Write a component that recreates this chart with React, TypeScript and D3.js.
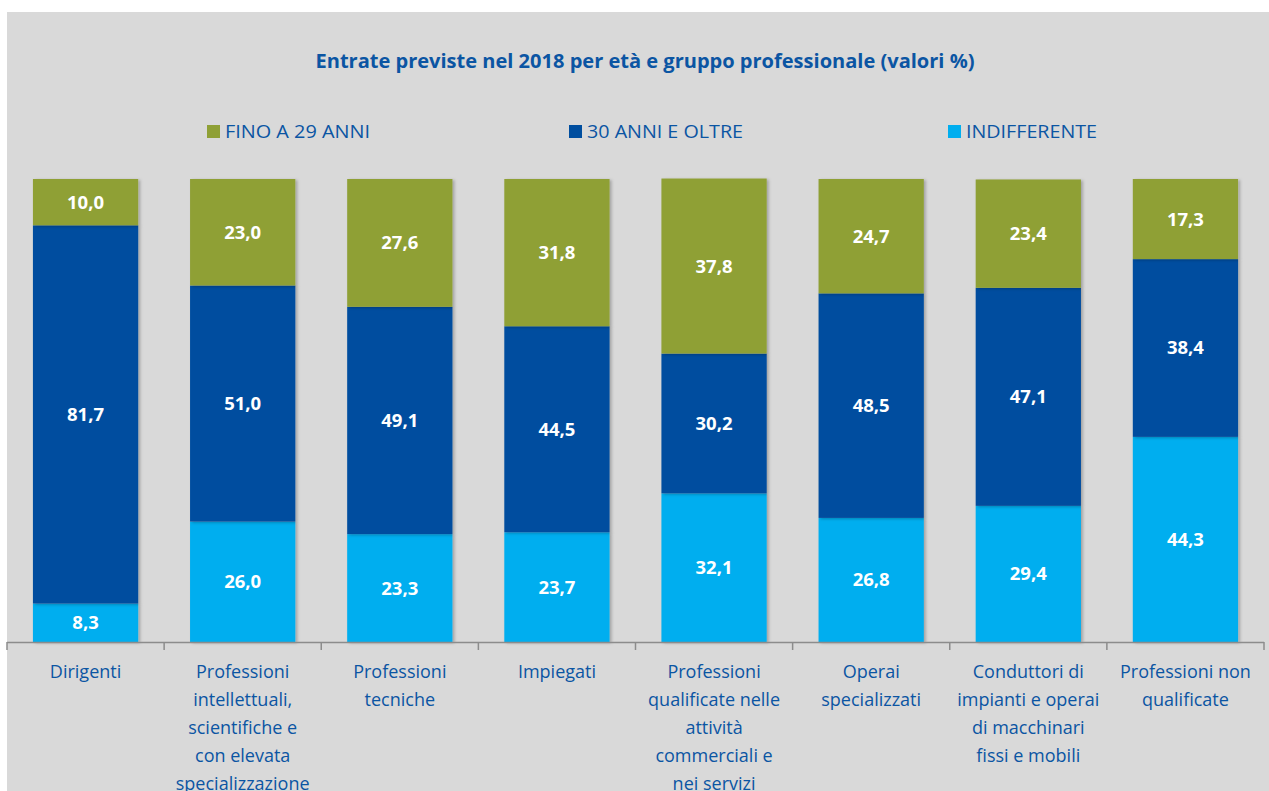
import React from "react";
import * as d3 from "d3";

const categories: string[][] = [
  ["Dirigenti"],
  ["Professioni", "intellettuali,", "scientifiche e", "con elevata", "specializzazione"],
  ["Professioni", "tecniche"],
  ["Impiegati"],
  ["Professioni", "qualificate nelle", "attività", "commerciali e", "nei servizi"],
  ["Operai", "specializzati"],
  ["Conduttori di", "impianti e operai", "di macchinari", "fissi e mobili"],
  ["Professioni non", "qualificate"],
];
const indifferente = [8.3, 26.0, 23.3, 23.7, 32.1, 26.8, 29.4, 44.3];
const oltre30 = [81.7, 51.0, 49.1, 44.5, 30.2, 48.5, 47.1, 38.4];
const fino29 = [10.0, 23.0, 27.6, 31.8, 37.8, 24.7, 23.4, 17.3];
const seriesNames = ["INDIFFERENTE", "30 ANNI E OLTRE", "FINO A 29 ANNI"];
const colors = ["#00aeef", "#004e9f", "#8fa036"];
const title = "Entrate previste nel 2018 per età e gruppo professionale (valori %)";

const W = 1269;
const H = 791;
const TEXT = "#0b55a3";
const FONT = "'Open Sans', 'Noto Sans', sans-serif";

export default function App() {
  const x = d3
    .scaleBand<number>()
    .domain(d3.range(categories.length))
    .range([7, 1264])
    .paddingInner(0.33)
    .paddingOuter(0.165);
  const y = d3.scaleLinear().domain([0, 100]).range([642, 179]);
  const rows = categories.map((_, i) => ({
    i,
    s0: indifferente[i],
    s1: oltre30[i],
    s2: fino29[i],
  }));
  const stack = d3.stack<any>().keys(["s0", "s1", "s2"])(rows);
  const ticks = d3.range(categories.length + 1).map((k) => 7 + (k * (1264 - 7)) / categories.length);
  const legend = [
    { name: seriesNames[2], color: colors[2], x: 207, len: 145 },
    { name: seriesNames[1], color: colors[1], x: 569, len: 156 },
    { name: seriesNames[0], color: colors[0], x: 948, len: 131 },
  ];
  const fmt = (v: number) => v.toFixed(1).replace(".", ",");
  return (
    <svg
      width={W}
      height={H}
      style={{ position: "absolute", left: 0, top: 0 }}
      fontFamily={FONT}
    >
      <defs>
        <filter id="sh" x="-10%" y="-10%" width="130%" height="120%">
          <feDropShadow dx="2" dy="1" stdDeviation="1.5" floodColor="#000" floodOpacity="0.25" />
        </filter>
      </defs>
      <rect x={0} y={0} width={W} height={H} fill="#ffffff" />
      <rect x={7} y={12} width={W - 7} height={H - 12} fill="#d9d9d9" />
      <text x={645} y={68} textAnchor="middle" fontSize={20} fontWeight="bold" fill={TEXT} textLength={659} lengthAdjust="spacingAndGlyphs">
        {title}
      </text>
      {legend.map((l) => (
        <g key={l.name}>
          <rect x={l.x} y={125} width={13} height={13} fill={l.color} />
          <text x={l.x + 18} y={138} fontSize={19} fill={TEXT} textLength={l.len} lengthAdjust="spacingAndGlyphs">
            {l.name}
          </text>
        </g>
      ))}
      {stack.map((layer, si) => (
        <g key={si}>
          {layer.map((d, i) => (
            <rect
              key={i}
              x={x(i)}
              y={y(d[1])}
              width={x.bandwidth()}
              height={y(d[0]) - y(d[1])}
              fill={colors[si]}
              filter="url(#sh)"
            />
          ))}
        </g>
      ))}
      {stack.map((layer, si) => (
        <g key={"l" + si}>
          {layer.map((d, i) => (
            <text
              key={i}
              x={(x(i) as number) + x.bandwidth() / 2}
              y={(y(d[0]) + y(d[1])) / 2 + 6.5}
              textAnchor="middle"
              fontSize={18.5}
              fontWeight="bold"
              fill="#ffffff"
            >
              {fmt(d[1] - d[0])}
            </text>
          ))}
        </g>
      ))}
      <line x1={7} x2={1264} y1={642.5} y2={642.5} stroke="#8c8c8c" strokeWidth={1.5} />
      {ticks.map((t, k) => (
        <line key={k} x1={t} x2={t} y1={642} y2={650} stroke="#8c8c8c" strokeWidth={1.5} />
      ))}
      {categories.map((lines, i) => (
        <text
          key={i}
          x={(x(i) as number) + x.bandwidth() / 2}
          textAnchor="middle"
          fontSize={18}
          fill={TEXT}
        >
          {lines.map((ln, j) => (
            <tspan key={j} x={(x(i) as number) + x.bandwidth() / 2} y={678 + j * 28}>
              {ln}
            </tspan>
          ))}
        </text>
      ))}
    </svg>
  );
}
